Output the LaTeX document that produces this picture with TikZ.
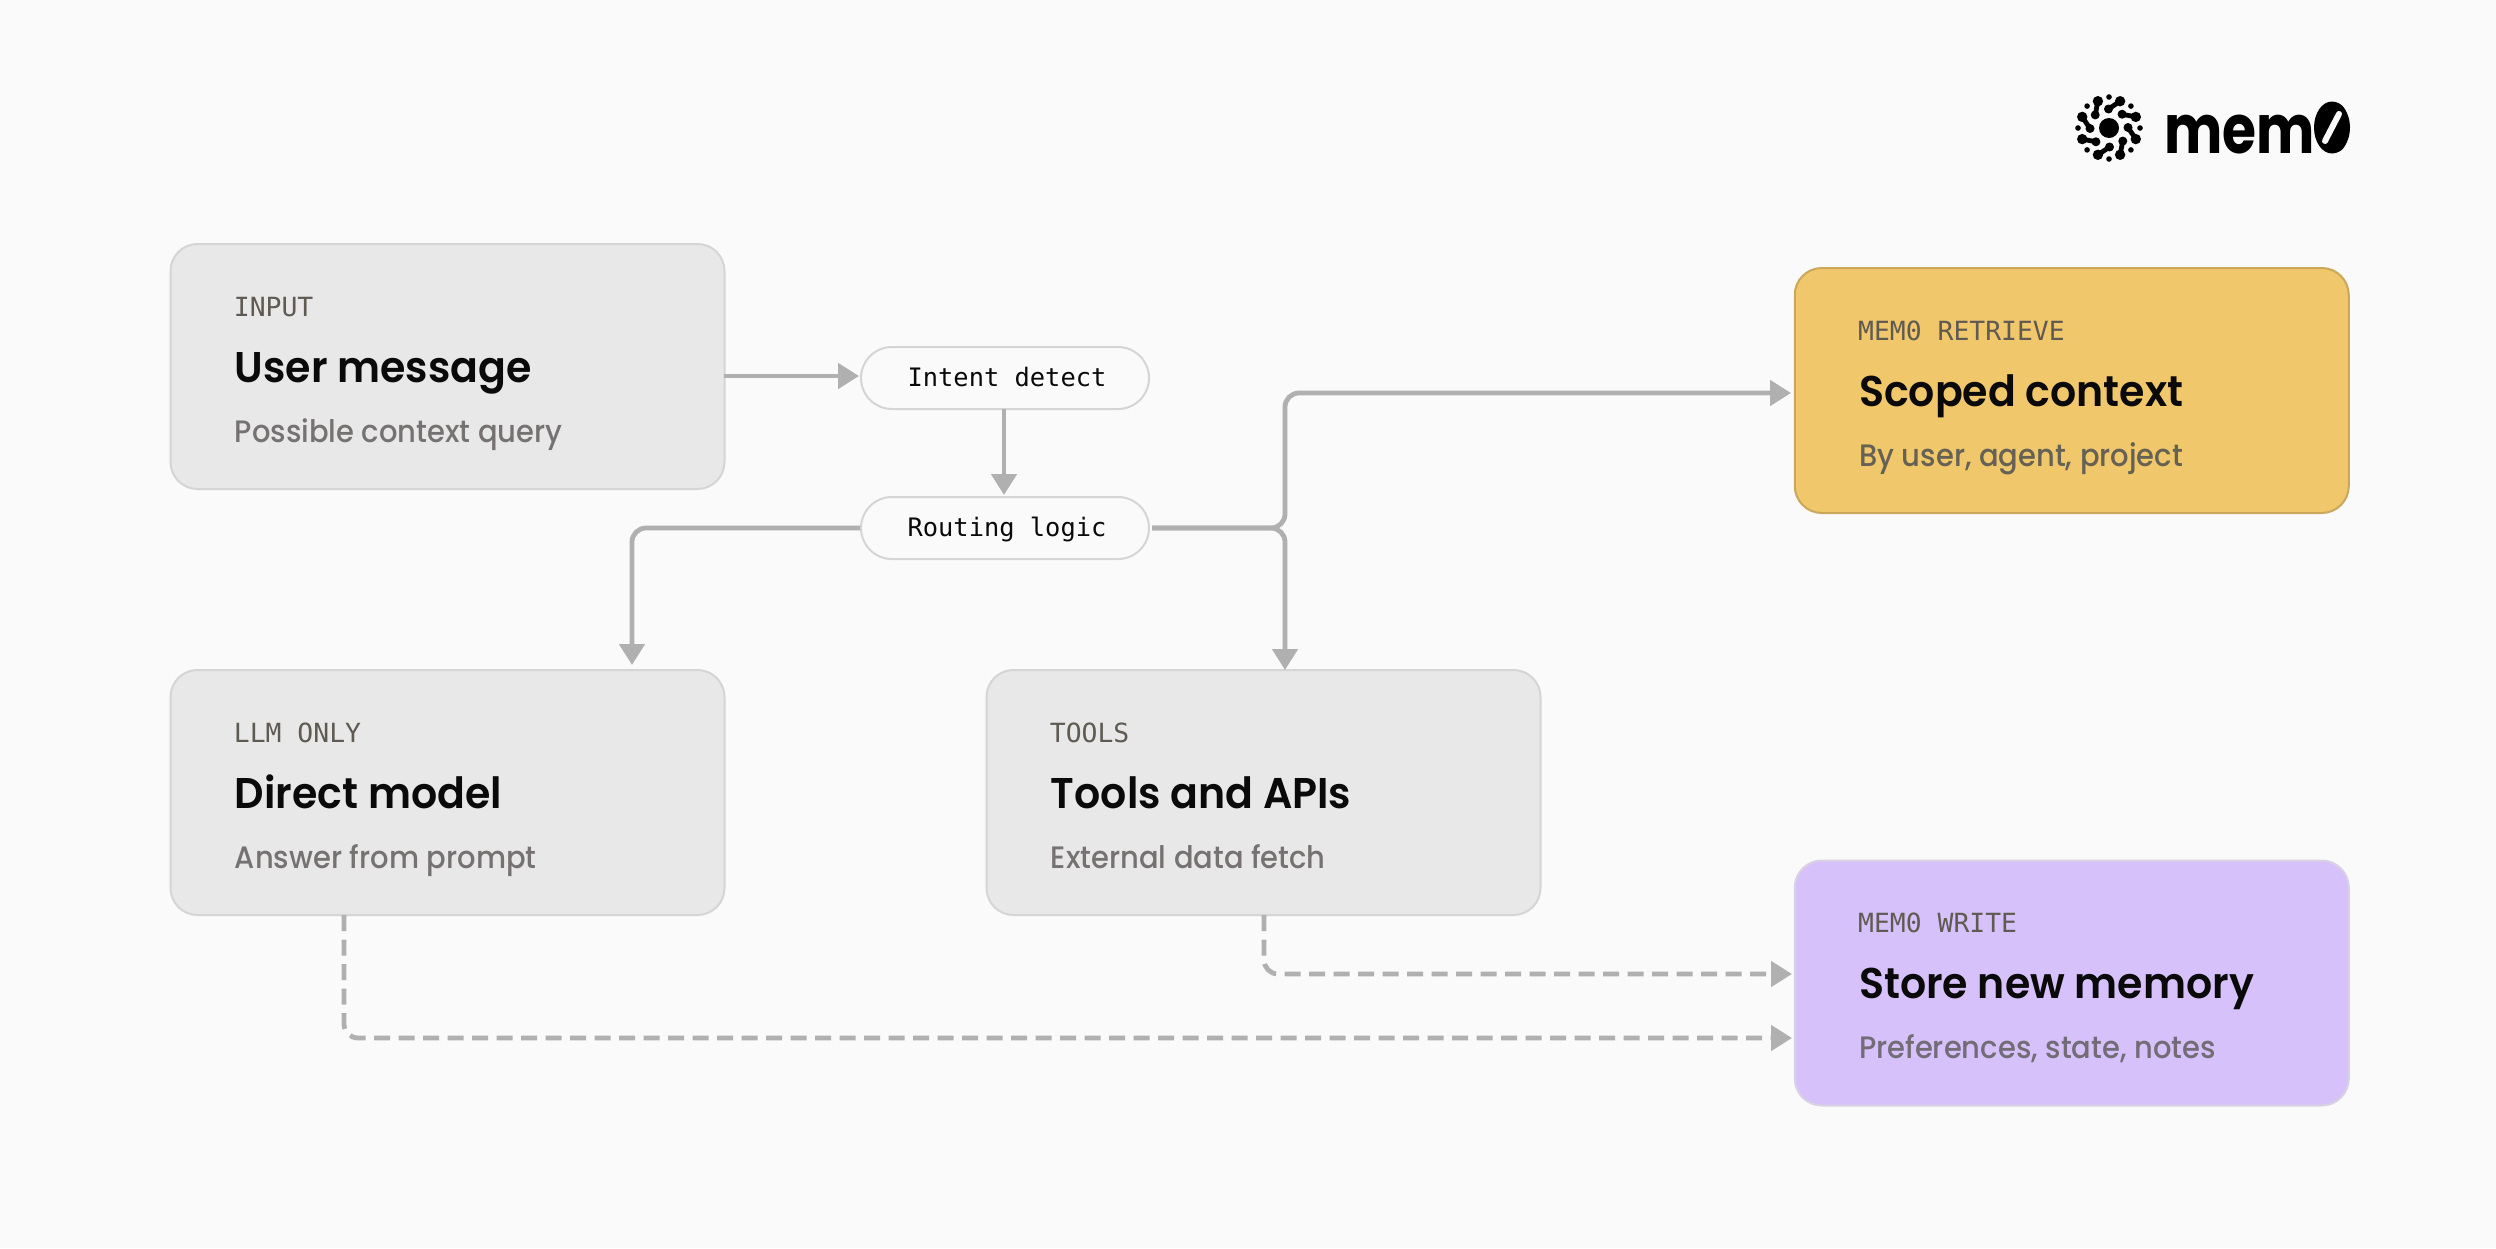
\documentclass[tikz,border=0pt]{standalone}
\usepackage{fontspec}
\usetikzlibrary{arrows.meta}
\setmainfont{Poppins}
\newfontfamily\monofont{DejaVu Sans Mono}
\newfontfamily\subfont[FakeStretch=0.935]{Poppins Medium}
\newfontfamily\titlefont[FakeStretch=0.955]{Poppins SemiBold}
\newfontfamily\logofont[FakeStretch=0.81]{Poppins}
\definecolor{pagebg}{HTML}{FAFAFA}
\definecolor{cardgray}{HTML}{E8E8E8}
\definecolor{cardedge}{HTML}{D5D5D5}
\definecolor{cardgold}{HTML}{F0C76A}
\definecolor{goldedge}{HTML}{CBA75C}
\definecolor{cardlilac}{HTML}{D6C1FB}
\definecolor{lilacedge}{HTML}{D8D2E2}
\definecolor{flowgray}{HTML}{B0B0B0}
\definecolor{kickergray}{HTML}{5F5A52}
\definecolor{subgray}{HTML}{767272}
\definecolor{subgold}{HTML}{656155}
\definecolor{sublilac}{HTML}{726C76}
\definecolor{inkblack}{HTML}{0A0A0A}
\tikzset{
  card/.style={rounded corners=13.5pt,line width=1pt,minimum width=277pt,minimum height=122.5pt,inner sep=0pt},
  pill/.style={draw=cardedge,fill=pagebg,rounded corners=15.5pt,line width=1pt,minimum width=144pt,minimum height=31pt,
    inner sep=0pt,text height=10pt,text depth=2pt,text=inkblack,font=\monofont\fontsize{12.7}{15}\selectfont},
  kicker/.style={anchor=base west,inner sep=0pt,text=kickergray,font=\monofont\fontsize{13.2}{15}\selectfont},
  headline/.style={anchor=base west,inner sep=0pt,text=inkblack,font=\titlefont\fontsize{21.5}{25}\selectfont},
  subline/.style={anchor=base west,inner sep=0pt,font=\subfont\fontsize{15.5}{18}\selectfont},
  flow/.style={draw=flowgray,line width=2.4pt,rounded corners=7pt,-{Triangle[length=10.5pt,width=12.5pt]}},
  flowdash/.style={flow,dash pattern=on 8pt off 4.25pt},
}
\begin{document}
\begin{tikzpicture}[x=0.5pt,y=-0.5pt]
  \fill[pagebg] (0,0) rectangle (2496,1248);

  % Cartes
  \foreach \cname/\cx/\cy/\cfill/\cedge/\clabel/\ctitle/\csub/\csubcol in {
      input/447.5/366.5/cardgray/cardedge/INPUT/User message/Possible context query/subgray,
      llm/447.5/792.5/cardgray/cardedge/LLM ONLY/Direct model/Answer from prompt/subgray,
      tools/1263.5/792.5/cardgray/cardedge/TOOLS/Tools and APIs/External data fetch/subgray,
      retrieve/2071.75/390.5/cardgold/goldedge/MEM0 RETRIEVE/Scoped context/{By user, agent, project}/subgold,
      write/2071.75/983/cardlilac/lilacedge/MEM0 WRITE/Store new memory/{Preferences, state, notes}/sublilac%
  }{
    \node[card,draw=\cedge,fill=\cfill] (\cname) at (\cx,\cy) {};
    \node[kicker] (\cname-label) at (\cx-214,\cy-50.5) {\clabel};
    \node[headline] (\cname-title) at (\cx-213,\cy+15.5) {\ctitle};
    \node[subline,text=\csubcol] (\cname-sub) at (\cx-213,\cy+75.5) {\csub};
  }

  % Etapes
  \node[pill] (intent) at (1005,378) {\hspace*{2pt}Intent detect};
  \node[pill] (routing) at (1005,528) {\hspace*{2pt}Routing logic};

  % Points de passage
  \coordinate (inputout) at (724,376);
  \coordinate (intentin) at (859,376);
  \coordinate (intentout) at (1004,409);
  \coordinate (routingin) at (1004,495);
  \coordinate (routingout) at (1152,528);
  \coordinate (split) at (1285,528);
  \coordinate (retrievein) at (1791,393);
  \coordinate (toolsin) at (1285,670);
  \coordinate (llmin) at (632,665);
  \coordinate (llmdrop) at (344,915);
  \coordinate (toolsdrop) at (1264,915);
  \coordinate (writein) at (1792,974);
  \coordinate (writeinlow) at (1792,1038);

  % Liaisons
  \draw[flow] (inputout) -- (intentin);
  \draw[flow] (intentout) -- (routingin);
  \draw[flow] (routingout) -- (split) |- (retrievein);
  \draw[flow] (routingout) -- (split) -- (toolsin);
  \draw[flow] (routing.west) -| (llmin);
  \draw[flowdash] (toolsdrop) |- (writein);
  \draw[flowdash] (llmdrop) |- (writeinlow);

  % Logo
  \begin{scope}[shift={(2109,128)}]
    \fill[black] (0,0) circle (10);
    \foreach \a in {22.5,67.5,...,337.5}{
      \draw[black,line width=2.4pt] (\a:29) -- (\a-24:19);
      \fill[black] (\a:29) circle (5.2);
      \fill[black] (\a-24:19) circle (4.5);
      \fill[black] (\a+22.5:31) circle (2.8);
    }
  \end{scope}
  \node[anchor=base west,inner sep=0pt,text=black,font=\logofont\bfseries\fontsize{34}{40}\selectfont] (logotext) at (2164,153) {mem0};
  \fill[black] (2332,127.5) ellipse (18 and 26);
  \draw[pagebg,line width=3pt,line cap=round] (2325,141) -- (2339,114);
\end{tikzpicture}
\end{document}
